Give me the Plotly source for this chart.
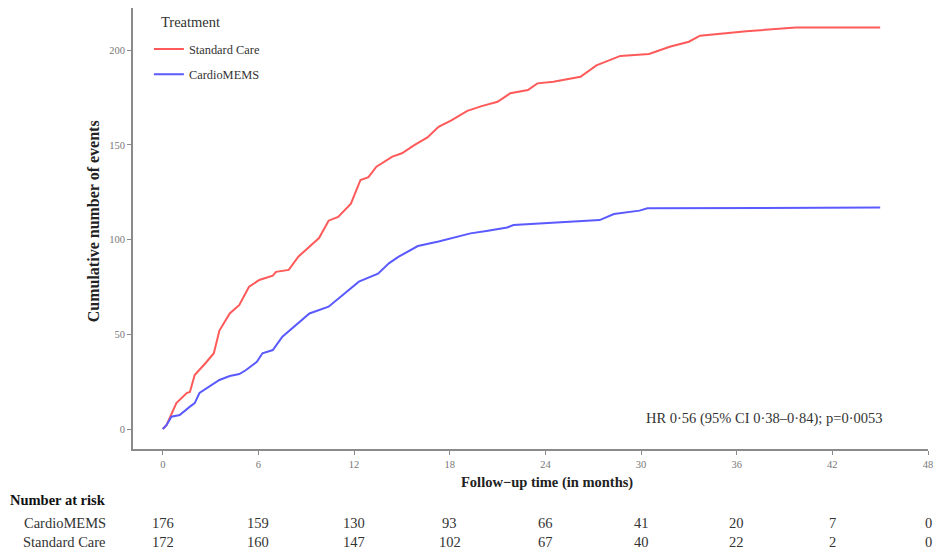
import plotly.graph_objects as go

# ---- data ----
std_months = [0, 0.23, 0.85, 1.5, 1.7, 2.0, 2.7, 3.2, 3.55, 4.2, 4.8, 5.4, 6.05, 6.9, 7.1, 7.9, 8.5, 9.8,
              10.4, 11.0, 11.8, 12.4, 12.9, 13.4, 14.4, 15.0, 15.8, 16.6, 17.3, 18.1, 19.1, 20.0, 21.0,
              21.8, 22.9, 23.5, 24.5, 26.2, 27.2, 28.7, 30.5, 31.8, 33.0, 33.7, 36.6, 39.7, 45.0]
std_events = [0, 2, 13.7, 19, 19.5, 28.5, 35, 40, 52, 61, 65.5, 75, 78.7, 81, 83, 84, 91, 100.8,
              110, 112, 119, 131.5, 133, 138.5, 143.8, 145.6, 150, 154, 159.6, 163, 168, 170.5, 172.8,
              177.3, 179, 182.5, 183.4, 186, 192, 197, 198, 201.8, 204.5, 207.7, 210, 212, 212]

cm_months = [0, 0.23, 0.54, 1.06, 1.7, 2.0, 2.3, 2.9, 3.55, 4.2, 4.8, 5.2, 5.9, 6.25, 6.9, 7.5, 8.0,
             8.5, 9.2, 10.4, 11.7, 12.3, 13.5, 14.2, 14.8, 16.0, 17.3, 18.5, 19.3, 20.4, 21.6, 22.0,
             24.0, 27.4, 28.3, 29.9, 30.4, 36.0, 45.0]
cm_events = [0, 2, 6.5, 7.4, 11.8, 13.7, 19, 22.3, 25.9, 28, 29, 31, 35.5, 40, 41.7, 48.7, 52.3,
             56, 61, 64.6, 73.4, 77.8, 82, 87.6, 91, 96.6, 99, 101.4, 103.3, 104.7, 106.4, 107.7,
             108.8, 110.3, 113.5, 115.3, 116.5, 116.8, 117]

risk_times = [0, 6, 12, 18, 24, 30, 36, 42, 48]
risk_cardiomems = [176, 159, 130, 93, 66, 41, 20, 7, 0]
risk_standard = [172, 160, 147, 102, 67, 40, 22, 2, 0]

x_ticks = [0, 6, 12, 18, 24, 30, 36, 42, 48]
y_ticks = [0, 50, 100, 150, 200]

FONT = "Liberation Serif"
RED = "#FF5A5A"
BLUE = "#5A5AFF"
AXIS = "#8a8a8a"
TXT = "#333"

fig = go.Figure()
fig.add_trace(go.Scatter(x=std_months, y=std_events, mode="lines", name="Standard Care",
                         line=dict(color=RED, width=2), legendgroup="a"))
fig.add_trace(go.Scatter(x=cm_months, y=cm_events, mode="lines", name="CardioMEMS",
                         line=dict(color=BLUE, width=2), legendgroup="b"))

annotations = []
# y title
annotations.append(dict(text="<b>Cumulative number of events</b>", xref="paper", yref="paper",
                        x=-0.05, y=0.517, xanchor="center", yanchor="middle", textangle=-90,
                        showarrow=False, font=dict(family=FONT, size=16, color="#222")))
# x title
annotations.append(dict(text="<b>Follow\u2212up time (in months)</b>", xref="paper", yref="paper",
                        x=0.521, y=-0.077, xanchor="center", yanchor="middle", showarrow=False,
                        font=dict(family=FONT, size=14.5, color="#222")))
# legend title
annotations.append(dict(text="Treatment", xref="paper", yref="paper", x=0.033, y=0.968,
                        xanchor="left", yanchor="middle", showarrow=False,
                        font=dict(family=FONT, size=14.5, color=TXT)))
# HR
annotations.append(dict(text="HR 0\u00b756 (95% CI 0\u00b738\u20130\u00b784); p=0\u00b70053",
                        xref="paper", yref="paper", x=0.946, xanchor="right", y=0.07,
                        yanchor="middle", showarrow=False,
                        font=dict(family=FONT, size=14.5, color=TXT)))
# number at risk
annotations.append(dict(text="<b>Number at risk</b>", xref="paper", yref="paper",
                        x=-0.157, xanchor="left", y=-0.116, yanchor="middle", showarrow=False,
                        font=dict(family=FONT, size=14.5, color="#111")))
annotations.append(dict(text="CardioMEMS", xref="paper", yref="paper",
                        x=-0.032, xanchor="right", y=-0.168, yanchor="middle", showarrow=False,
                        font=dict(family=FONT, size=14.5, color=TXT)))
annotations.append(dict(text="Standard Care", xref="paper", yref="paper",
                        x=-0.032, xanchor="right", y=-0.211, yanchor="middle", showarrow=False,
                        font=dict(family=FONT, size=14.5, color=TXT)))
for t, a, b in zip(risk_times, risk_cardiomems, risk_standard):
    annotations.append(dict(text=str(a), xref="x", yref="paper", x=t, y=-0.168, yanchor="middle",
                            showarrow=False, font=dict(family=FONT, size=14.5, color=TXT)))
    annotations.append(dict(text=str(b), xref="x", yref="paper", x=t, y=-0.211, yanchor="middle",
                            showarrow=False, font=dict(family=FONT, size=14.5, color=TXT)))

fig.update_layout(
    width=941, height=555,
    margin=dict(l=133, r=8, t=8, b=106),
    plot_bgcolor="white", paper_bgcolor="white",
    font=dict(family=FONT),
    showlegend=True,
    legend=dict(x=0.02, y=0.94, xanchor="left", yanchor="top",
                font=dict(family=FONT, size=12.4, color=TXT),
                tracegroupgap=6, itemwidth=30, bgcolor="rgba(255,255,255,0)"),
    annotations=annotations,
)
fig.update_xaxes(range=[-1.87, 48], tickvals=x_ticks, ticktext=[str(v) for v in x_ticks],
                 showgrid=False, zeroline=False, showline=True, linecolor=AXIS, linewidth=2,
                 ticks="outside", ticklen=4, tickcolor=AXIS, tickwidth=1,
                 tickfont=dict(family=FONT, size=10.5, color="#777"))
fig.update_yaxes(range=[-10.56, 222.3], tickvals=y_ticks, ticktext=[str(v) for v in y_ticks],
                 showgrid=False, zeroline=False, showline=True, linecolor=AXIS, linewidth=2,
                 ticks="outside", ticklen=4, tickcolor=AXIS, tickwidth=1,
                 tickfont=dict(family=FONT, size=10.5, color="#777"))

fig.write_html("out.html")
